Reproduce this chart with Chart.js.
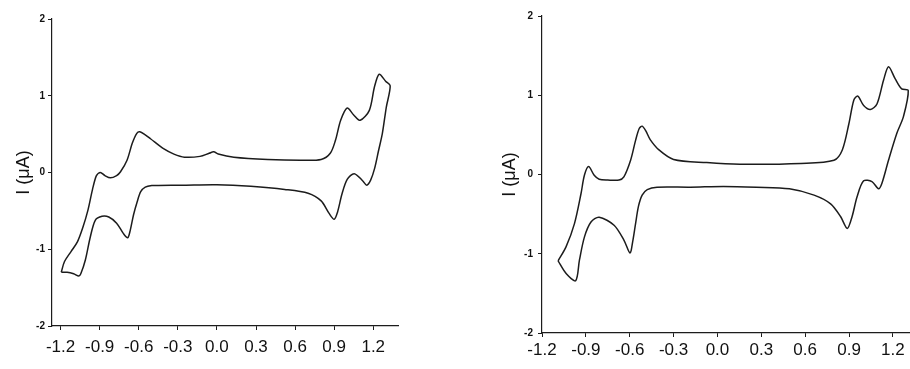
<!DOCTYPE html>
<html lang="en">
<head>
<meta charset="UTF-8">
<title>Cyclic voltammograms</title>
<script src="https://cdn.jsdelivr.net/npm/chart.js"></script>
<style>
  body { margin: 0; background: #fff; }
  .panel { position: absolute; top: 0; width: 455px; height: 369px; }
  #left { left: 0; }
  #right { left: 455px; }
</style>
</head>
<body>
<div class="panel" id="left"><canvas id="cvLeft"></canvas></div>
<div class="panel" id="right"><canvas id="cvRight"></canvas></div>

<script>
// left voltammogram: forward sweep (top) then return sweep (bottom), E in V, I in uA
const potentialLeft = [
  -1.195, -1.17, -1.12, -1.07, -1.03, -0.99, -0.955, -0.925, -0.895, -0.86, -0.818, -0.77,
  -0.74, -0.69, -0.65, -0.615, -0.592, -0.55, -0.51, -0.41, -0.33, -0.25, -0.13, -0.06, -0.025, 0.01,
  0.13, 0.39, 0.64, 0.80, 0.87, 0.91, 0.95, 1.0, 1.05, 1.10, 1.17, 1.21, 1.246, 1.295, 1.33,
  1.30, 1.27, 1.24, 1.21, 1.18, 1.15, 1.12, 1.054, 1.0, 0.96, 0.925, 0.90, 0.86, 0.80,
  0.70, 0.52, 0.26, 0.0, -0.25, -0.45, -0.5, -0.55, -0.585, -0.612, -0.64, -0.665, -0.685,
  -0.72, -0.77, -0.83, -0.882, -0.933, -0.972, -1.01, -1.045, -1.06, -1.10, -1.15, -1.195
];
const currentLeft = [
  -1.30, -1.16, -1.03, -0.90, -0.72, -0.49, -0.22, -0.04, 0.0, -0.04, -0.07, -0.04,
  0.01, 0.16, 0.38, 0.51, 0.53, 0.49, 0.44, 0.31, 0.24, 0.20, 0.21, 0.25, 0.27, 0.24,
  0.20, 0.17, 0.16, 0.17, 0.25, 0.42, 0.68, 0.84, 0.75, 0.68, 0.81, 1.12, 1.28, 1.19, 1.13,
  0.85, 0.51, 0.28, 0.05, -0.10, -0.165, -0.11, -0.015, -0.09, -0.28, -0.52, -0.61, -0.53, -0.37,
  -0.27, -0.22, -0.18, -0.16, -0.165, -0.17, -0.17, -0.19, -0.25, -0.38, -0.55, -0.75, -0.85,
  -0.79, -0.66, -0.58, -0.57, -0.62, -0.84, -1.14, -1.32, -1.35, -1.32, -1.30, -1.30
];

// right voltammogram
const potentialRight = [
  -1.09, -1.035, -0.978, -0.933, -0.91, -0.881, -0.843, -0.809, -0.75, -0.673, -0.64, -0.594,
  -0.56, -0.535, -0.515, -0.49, -0.46, -0.40, -0.30, -0.073, 0.153, 0.571, 0.797, 0.854, 0.899, 0.933,
  0.96, 1.0, 1.046, 1.091, 1.136, 1.17, 1.215, 1.26, 1.305,
  1.272, 1.227, 1.17, 1.125, 1.102, 1.057, 1.0, 0.955, 0.921, 0.888, 0.842, 0.774,
  0.661, 0.492, 0.266, 0.04, -0.186, -0.413, -0.48, -0.515, -0.54, -0.56, -0.58, -0.598, -0.639, -0.707,
  -0.809, -0.865, -0.91, -0.944, -0.97, -1.035, -1.09
];
const currentRight = [
  -1.09, -0.91, -0.62, -0.24, -0.01, 0.10, -0.01, -0.06, -0.07, -0.07, -0.03, 0.18,
  0.43, 0.58, 0.61, 0.55, 0.44, 0.31, 0.19, 0.15, 0.13, 0.14, 0.18, 0.31, 0.64, 0.94,
  0.99, 0.87, 0.82, 0.89, 1.19, 1.36, 1.21, 1.08, 1.06,
  0.73, 0.52, 0.18, -0.11, -0.18, -0.09, -0.08, -0.28, -0.53, -0.68, -0.53, -0.37,
  -0.26, -0.18, -0.16, -0.15, -0.16, -0.16, -0.19, -0.26, -0.40, -0.62, -0.85, -0.99, -0.83, -0.64,
  -0.54, -0.60, -0.79, -1.08, -1.34, -1.25, -1.09
];

const xTicks = [-1.2, -0.9, -0.6, -0.3, 0.0, 0.3, 0.6, 0.9, 1.2];
const yTicks = [-2, -1, 0, 1, 2];
const yTitle = 'I (\u03bcA)';

const ink = '#1c1c1c';
const narrow = "'Liberation Sans Narrow', 'Arial Narrow', 'Liberation Sans', Arial, sans-serif";
const sans = "'Liberation Sans', Arial, sans-serif";

function makeChart(id, E, I, o) {
  new Chart(document.getElementById(id), {
    type: 'scatter',
    data: {
      datasets: [{
        data: E.map((e, i) => ({ x: e, y: I[i] })),
        showLine: true,
        borderColor: ink,
        borderWidth: 1.5,
        pointRadius: 0,
        tension: 0.3,
        fill: false
      }]
    },
    options: {
      responsive: true,
      maintainAspectRatio: false,
      animation: false,
      layout: { padding: { top: o.top, right: o.right, left: 0, bottom: 0 } },
      plugins: { legend: { display: false }, tooltip: { enabled: false } },
      scales: {
        x: {
          type: 'linear',
          min: o.xmin,
          max: o.xmax,
          afterBuildTicks: s => { s.ticks = xTicks.map(v => ({ value: v })); },
          afterFit: s => { s.height = o.xh; },
          grid: { drawOnChartArea: false, tickLength: 4, color: ink },
          border: { color: ink, width: 1.2 },
          ticks: {
            color: '#111',
            padding: o.xpad,
            maxRotation: 0,
            autoSkip: false,
            font: { family: narrow, size: 17 },
            callback: v => v.toFixed(1)
          }
        },
        y: {
          type: 'linear',
          min: -2,
          max: 2,
          afterBuildTicks: s => { s.ticks = yTicks.map(v => ({ value: v })); },
          afterFit: s => { s.width = o.yw; },
          grid: { drawOnChartArea: false, tickLength: 4, color: ink },
          border: { color: ink, width: 1.2 },
          ticks: {
            color: '#111',
            padding: o.ypad,
            font: { family: sans, size: 10, weight: 'bold' },
            callback: v => String(v)
          },
          title: {
            display: true,
            text: yTitle,
            color: '#111',
            font: { family: sans, size: 18 },
            padding: { top: o.tpad, bottom: 0 }
          }
        }
      }
    }
  });
}

makeChart('cvLeft', potentialLeft, currentLeft, {
  top: 19, right: 57, xmin: -1.266, xmax: 1.39, xh: 43, yw: 52, xpad: 7, ypad: 3, tpad: 13
});
makeChart('cvRight', potentialRight, currentRight, {
  top: 16, right: 0, xmin: -1.2, xmax: 1.317, xh: 36, yw: 87, xpad: 3, ypad: 5, tpad: 44
});
</script>
</body>
</html>
